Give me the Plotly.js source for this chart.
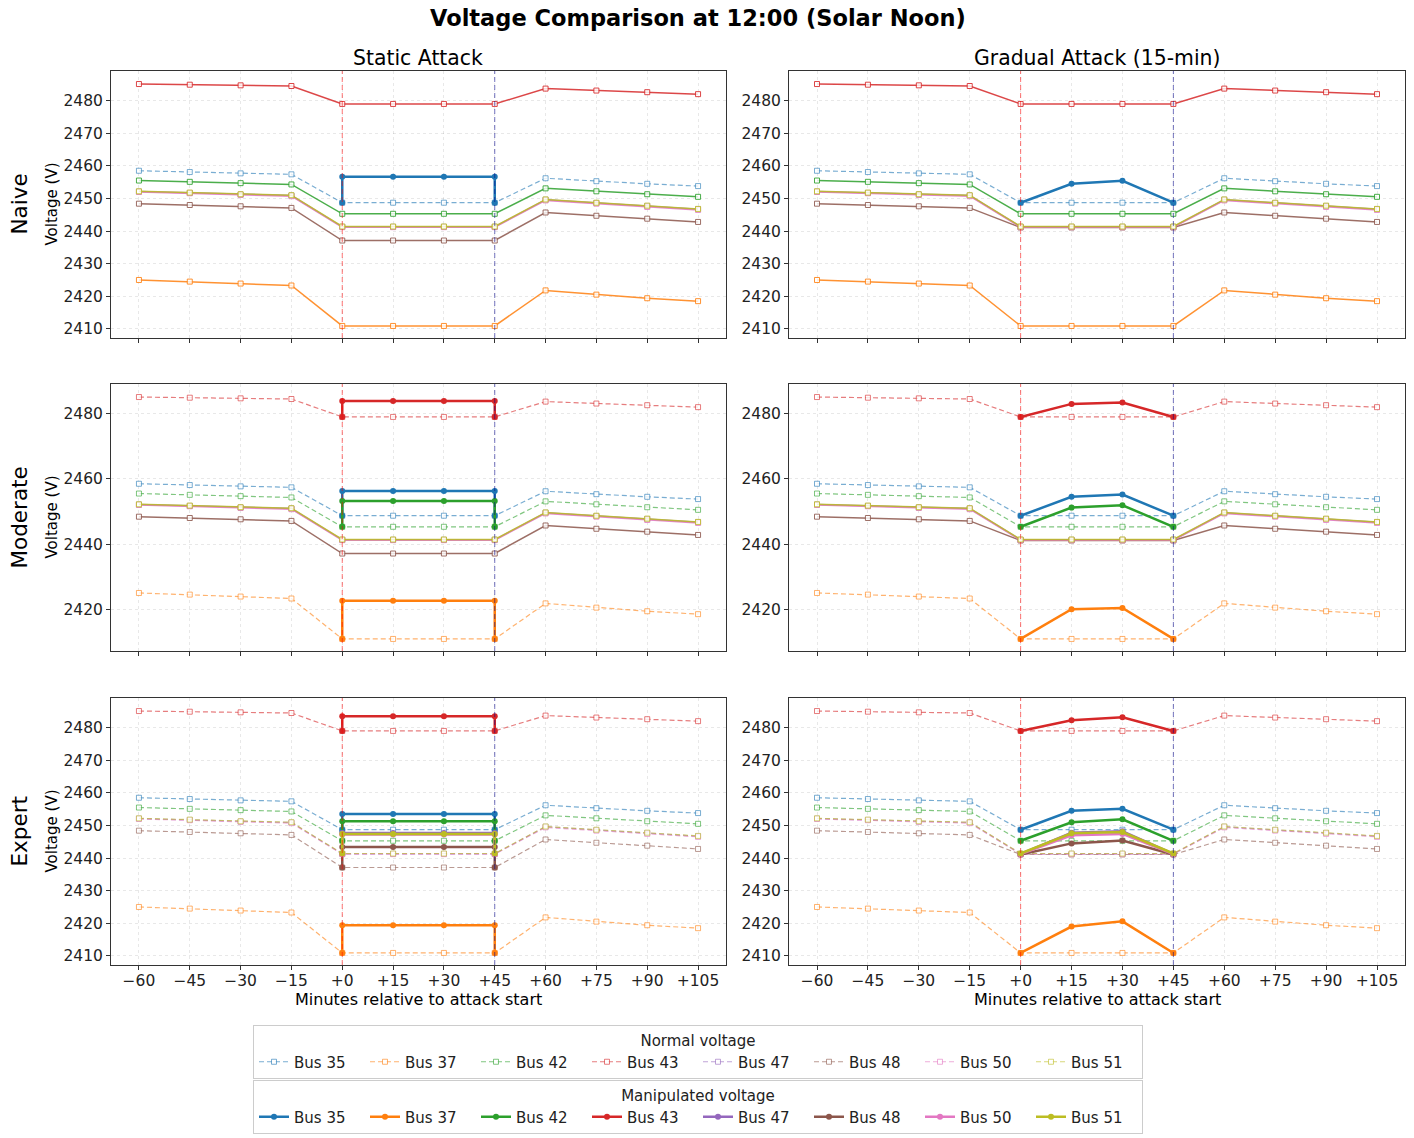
<!DOCTYPE html>
<html>
<head>
<meta charset="utf-8">
<script src="https://cdn.plot.ly/plotly-3.0.1.min.js"></script>
<style>
  body { margin: 0; background: #fff; }
  #chart { width: 1414px; height: 1138px; }
</style>
</head>
<body>
<div id="chart"></div>
<script>
var minutes = [-60, -45, -30, -15, 0, 15, 30, 45, 60, 75, 90, 105];
var tickText = ['\u221260', '\u221245', '\u221230', '\u221215', '+0', '+15', '+30', '+45', '+60', '+75', '+90', '+105'];
var buses = ['Bus 35', 'Bus 37', 'Bus 42', 'Bus 43', 'Bus 47', 'Bus 48', 'Bus 50', 'Bus 51'];
var colors = ['31,119,180', '255,127,14', '44,160,44', '214,39,40', '148,103,189', '140,86,75', '227,119,194', '188,189,34'];

// normal voltage per bus
var bus35 = [2458.5, 2458.1, 2457.7, 2457.4, 2448.7, 2448.7, 2448.7, 2448.7, 2456.2, 2455.3, 2454.5, 2453.8];
var bus37 = [2425.0, 2424.5, 2423.9, 2423.3, 2410.9, 2410.9, 2410.9, 2410.9, 2421.8, 2420.5, 2419.4, 2418.5];
var bus42 = [2455.5, 2455.1, 2454.7, 2454.3, 2445.3, 2445.3, 2445.3, 2445.3, 2453.1, 2452.2, 2451.3, 2450.5];
var bus43 = [2485.1, 2484.9, 2484.7, 2484.5, 2479.0, 2479.0, 2479.0, 2479.0, 2483.7, 2483.1, 2482.6, 2482.0];
var bus47 = [2452.1, 2451.7, 2451.2, 2450.9, 2441.3, 2441.3, 2441.3, 2441.3, 2449.6, 2448.6, 2447.7, 2446.7];
var bus48 = [2448.4, 2448.0, 2447.6, 2447.1, 2437.1, 2437.1, 2437.1, 2437.1, 2445.7, 2444.7, 2443.8, 2442.8];
var bus50 = [2452.0, 2451.6, 2451.1, 2450.7, 2441.2, 2441.2, 2441.2, 2441.2, 2449.4, 2448.4, 2447.4, 2446.5];
var bus51 = [2452.2, 2451.8, 2451.3, 2451.0, 2441.4, 2441.4, 2441.4, 2441.4, 2449.7, 2448.7, 2447.8, 2446.8];
// bus 48 in the gradual runs sits lower in the window
var bus48Gradual = [2448.4, 2448.0, 2447.6, 2447.1, 2441.1, 2441.1, 2441.1, 2441.1, 2445.7, 2444.7, 2443.8, 2442.8];
var normalStatic  = [bus35, bus37, bus42, bus43, bus47, bus48, bus50, bus51];
var normalGradual = [bus35, bus37, bus42, bus43, bus47, bus48Gradual, bus50, bus51];

// static attack: constant value from +0 to +45 (null = bus not attacked)
var naiveStatic    = [2456.7, null, null, null, null, null, null, null];
var moderateStatic = [2456.3, 2422.6, 2453.2, 2483.9, null, null, null, null];
var expertStatic   = [2453.5, 2419.4, 2451.3, 2483.5, 2447.7, 2443.4, 2447.2, 2447.4];

// gradual attack: values at +15 and +30
var naiveGrad15    = [2454.5, null, null, null, null, null, null, null];
var naiveGrad30    = [2455.4, null, null, null, null, null, null, null];
var moderateGrad15 = [2454.5, 2420.0, 2451.2, 2483.0, null, null, null, null];
var moderateGrad30 = [2455.2, 2420.4, 2451.9, 2483.4, null, null, null, null];
var expertGrad15   = [2454.5, 2419.0, 2451.0, 2482.3, 2447.8, 2444.5, 2447.0, 2447.6];
var expertGrad30   = [2455.1, 2420.6, 2451.9, 2483.2, 2448.2, 2445.4, 2447.4, 2448.0];

var levels = ['Naive', 'Moderate', 'Expert'];
var staticVals = [naiveStatic, moderateStatic, expertStatic];
var grad15 = [naiveGrad15, moderateGrad15, expertGrad15];
var grad30 = [naiveGrad30, moderateGrad30, expertGrad30];
var attackStart = 0, attackEnd = 45;

var W = 1414, H = 1138;
var colPx = [[111, 726], [789, 1405]];
var rowPx = [[71, 338], [384, 651], [698, 965]];
var FONT = 'DejaVu Sans';

function rgba(c, a) { return 'rgba(' + c + ',' + a + ')'; }

var data = [];
var layout = {
  width: W, height: H,
  margin: {l: 0, r: 0, t: 0, b: 0},
  paper_bgcolor: '#fff', plot_bgcolor: '#fff',
  font: {family: FONT, size: 15, color: '#222'},
  showlegend: true,
  shapes: [], annotations: []
};

function addPanel(r, c) {
  var n = r * 2 + c + 1;
  var xa = 'x' + (n === 1 ? '' : n), ya = 'y' + (n === 1 ? '' : n);
  var isLegend = (r === 2 && c === 0);
  var normal = c === 0 ? normalStatic : normalGradual;

  // normal lines first
  for (var b = 0; b < buses.length; b++) {
    var hit = staticVals[r][b] !== null;
    var col = rgba(colors[b], hit ? 0.6 : 0.85);
    data.push({
      x: minutes, y: normal[b], xaxis: xa, yaxis: ya,
      type: 'scatter', mode: 'lines+markers', name: buses[b],
      legend: 'legend', showlegend: isLegend,
      line: {color: col, width: hit ? 1.2 : 1.5, dash: hit ? '5px,3px' : 'solid'},
      marker: {symbol: 'square', size: 5, color: 'rgba(255,255,255,0.8)', line: {color: col, width: 1}}
    });
  }
  // manipulated lines on top
  var i0 = minutes.indexOf(attackStart), i1 = minutes.indexOf(attackEnd);
  for (var b = 0; b < buses.length; b++) {
    if (staticVals[r][b] === null) continue;
    var mx, my;
    if (c === 0) {
      var v = staticVals[r][b];
      mx = [attackStart, attackStart, 15, 30, attackEnd, attackEnd];
      my = [normal[b][i0], v, v, v, v, normal[b][i1]];
    } else {
      mx = [attackStart, 15, 30, attackEnd];
      my = [normal[b][i0], grad15[r][b], grad30[r][b], normal[b][i1]];
    }
    data.push({
      x: mx, y: my, xaxis: xa, yaxis: ya,
      type: 'scatter', mode: 'lines+markers', name: buses[b],
      legend: 'legend2', showlegend: isLegend,
      line: {color: rgba(colors[b], 1), width: 2.5},
      marker: {symbol: 'circle', size: 6, color: rgba(colors[b], 1)}
    });
  }

  var common = {
    ticks: 'outside', ticklen: 4, tickcolor: '#333',
    showline: true, linecolor: '#333', linewidth: 1, mirror: true,
    showgrid: true, gridcolor: 'rgba(0,0,0,0.09)', griddash: 'dot', gridwidth: 0.8,
    zeroline: false, tickfont: {family: FONT, size: 15.5, color: '#222'}
  };
  layout['xaxis' + (n === 1 ? '' : n)] = Object.assign({
    domain: [colPx[c][0] / W, colPx[c][1] / W],
    anchor: ya, range: [-68.25, 113.25],
    tickmode: 'array', tickvals: minutes, ticktext: tickText,
    showticklabels: r === 2, ticklabelstandoff: -3
  }, common);
  layout['yaxis' + (n === 1 ? '' : n)] = Object.assign({
    domain: [1 - rowPx[r][1] / H, 1 - rowPx[r][0] / H],
    anchor: xa, range: [2407.2, 2489.1], dtick: r === 1 ? 20 : 10, tick0: 2400
  }, common);

  // attack start / end markers
  layout.shapes.push({type: 'line', xref: xa, yref: ya + ' domain', x0: attackStart, x1: attackStart, y0: 0, y1: 1,
    line: {color: 'rgba(255,0,0,0.55)', width: 1, dash: '5px,3px'}});
  layout.shapes.push({type: 'line', xref: xa, yref: ya + ' domain', x0: attackEnd, x1: attackEnd, y0: 0, y1: 1,
    line: {color: 'rgba(0,0,139,0.55)', width: 1, dash: '5px,3px'}});
}

for (var r = 0; r < 3; r++)
  for (var c = 0; c < 2; c++)
    addPanel(r, c);

function note(text, x, y, size, opts) {
  var a = {text: text, xref: 'paper', yref: 'paper', x: x / W, y: 1 - y / H,
           xanchor: 'center', yanchor: 'middle', showarrow: false,
           font: {family: FONT, size: size, color: '#000'}};
  for (var k in (opts || {})) a[k] = opts[k];
  layout.annotations.push(a);
}

note('<b>Voltage Comparison at 12:00 (Solar Noon)</b>', 698, 18, 22.5);
note('Static Attack', 418, 58, 20.4);
note('Gradual Attack (15-min)', 1097, 58, 20.4);
for (var r = 0; r < 3; r++) {
  var mid = (rowPx[r][0] + rowPx[r][1]) / 2;
  note(levels[r], 19, mid, 21.5, {textangle: -90});
  note('Voltage (V)', 51, mid, 15, {textangle: -90});
}
note('Minutes relative to attack start', 418, 999, 16);
note('Minutes relative to attack start', 1097, 999, 16);

var legendBase = {
  orientation: 'h', xref: 'paper', yref: 'paper', x: 698 / W, xanchor: 'center', yanchor: 'top',
  bgcolor: '#fff', bordercolor: '#ccc', borderwidth: 1,
  font: {family: FONT, size: 15, color: '#222'},
  entrywidth: 66, itemwidth: 30, traceorder: 'normal'
};
layout.legend = Object.assign({}, legendBase, {y: 1 - 1025 / H,
  title: {text: 'Normal voltage', side: 'top center', font: {family: FONT, size: 15, color: '#222'}}});
layout.legend2 = Object.assign({}, legendBase, {y: 1 - 1080 / H,
  title: {text: 'Manipulated voltage', side: 'top center', font: {family: FONT, size: 15, color: '#222'}}});

Plotly.newPlot('chart', data, layout, {displayModeBar: false});
</script>
</body>
</html>
